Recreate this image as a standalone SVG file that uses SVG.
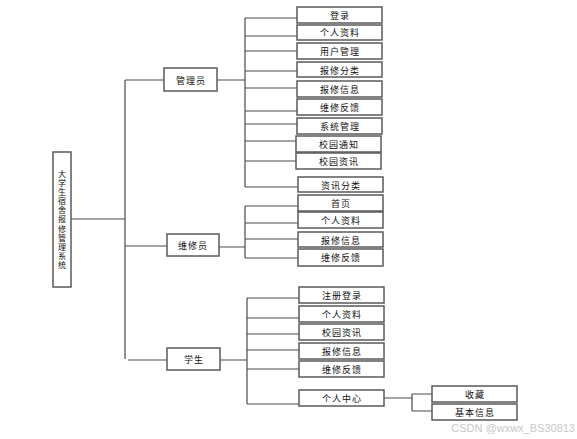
<svg xmlns="http://www.w3.org/2000/svg" width="577" height="439" viewBox="0 0 577 439">
<style>
.b{fill:#fff;stroke:#5a5a5a;stroke-width:1.5}
.t{font-family:"Noto Sans CJK SC","Liberation Sans",sans-serif;font-size:9px;fill:#111;text-anchor:middle;dominant-baseline:central;letter-spacing:1px}
.v{font-family:"Noto Sans CJK SC","Liberation Sans",sans-serif;font-size:8px;fill:#111;text-anchor:middle;writing-mode:vertical-rl;letter-spacing:1.1px}
.c{fill:none;stroke:#4a4a4a;stroke-width:1.2}
</style>
<rect width="577" height="439" fill="#fff"/>
<g id="connectors">
<path class="c" d="M71 219H125M125 80V359M125 80H164M125 246H167M128 360H167"/>
<path class="c" d="M217 80H245M245 18V187M245 18H297M245 36H297M245 51H297M245 71H297M245 88H297M245 111H297M245 124H297M245 141H296M245 161H296M245 187H298"/>
<path class="c" d="M219 247H245M245 206V258M245 206H298M245 223H298M245 239H298M245 258H298"/>
<path class="c" d="M220 360H247M247 298V404M247 298H299M247 318H299M247 334H299M247 350H299M247 369H299M247 404H299"/>
<path class="c" d="M384 398H412M412 394V411M412 394H432M412 411H432" stroke-width="1.5"/>
</g>
<g id="root"><rect class="b" x="53" y="152" width="18" height="135"/>
<text class="v" x="62" y="220">大学生宿舍报修管理系统</text>
</g>
<g id="admin"><rect class="b" x="164" y="68" width="53" height="23"/><text class="t" x="191" y="80">管理员</text></g>
<g id="repairer"><rect class="b" x="167" y="234" width="52" height="22"/><text class="t" x="193" y="245">维修员</text></g>
<g id="student"><rect class="b" x="167" y="348" width="53" height="22"/><text class="t" x="194" y="359">学生</text></g>
<g id="a1"><rect class="b" x="297" y="7" width="85" height="16"/><text class="t" x="340" y="15">登录</text></g>
<g id="a2"><rect class="b" x="297" y="25" width="85" height="15"/><text class="t" x="340" y="32">个人资料</text></g>
<g id="a3"><rect class="b" x="297" y="43" width="85" height="16"/><text class="t" x="340" y="51">用户管理</text></g>
<g id="a4"><rect class="b" x="297" y="62" width="85" height="15"/><text class="t" x="340" y="70">报修分类</text></g>
<g id="a5"><rect class="b" x="297" y="81" width="85" height="16"/><text class="t" x="340" y="89">报修信息</text></g>
<g id="a6"><rect class="b" x="297" y="99" width="85" height="16"/><text class="t" x="340" y="107">维修反馈</text></g>
<g id="a7"><rect class="b" x="297" y="118" width="85" height="16"/><text class="t" x="340" y="126">系统管理</text></g>
<g id="a8"><rect class="b" x="296" y="136" width="85" height="16"/><text class="t" x="339" y="144">校园通知</text></g>
<g id="a9"><rect class="b" x="296" y="153" width="85" height="16"/><text class="t" x="339" y="161">校园资讯</text></g>
<g id="a10"><rect class="b" x="298" y="177" width="85" height="15"/><text class="t" x="341" y="185">资讯分类</text></g>
<g id="r1"><rect class="b" x="298" y="195" width="85" height="16"/><text class="t" x="341" y="203">首页</text></g>
<g id="r2"><rect class="b" x="298" y="212" width="85" height="16"/><text class="t" x="341" y="220">个人资料</text></g>
<g id="r3"><rect class="b" x="298" y="232" width="85" height="15"/><text class="t" x="341" y="240">报修信息</text></g>
<g id="r4"><rect class="b" x="298" y="249" width="85" height="17"/><text class="t" x="341" y="257">维修反馈</text></g>
<g id="s1"><rect class="b" x="299" y="287" width="85" height="16"/><text class="t" x="342" y="295">注册登录</text></g>
<g id="s2"><rect class="b" x="299" y="306" width="85" height="16"/><text class="t" x="342" y="314">个人资料</text></g>
<g id="s3"><rect class="b" x="299" y="324" width="85" height="16"/><text class="t" x="342" y="332">校园资讯</text></g>
<g id="s4"><rect class="b" x="299" y="343" width="85" height="16"/><text class="t" x="342" y="351">报修信息</text></g>
<g id="s5"><rect class="b" x="299" y="361" width="85" height="16"/><text class="t" x="342" y="369">维修反馈</text></g>
<g id="s6"><rect class="b" x="299" y="390" width="85" height="16"/><text class="t" x="342" y="398">个人中心</text></g>
<g id="p1"><rect class="b" x="432" y="386" width="85" height="16"/><text class="t" x="475" y="394">收藏</text></g>
<g id="p2"><rect class="b" x="432" y="404" width="85" height="16"/><text class="t" x="475" y="412">基本信息</text></g>
<text x="575" y="428" font-family="Liberation Sans,sans-serif" font-size="11" fill="#c8c8c8" text-anchor="end" dominant-baseline="central">CSDN @wxwx_BS30813</text>
</svg>
